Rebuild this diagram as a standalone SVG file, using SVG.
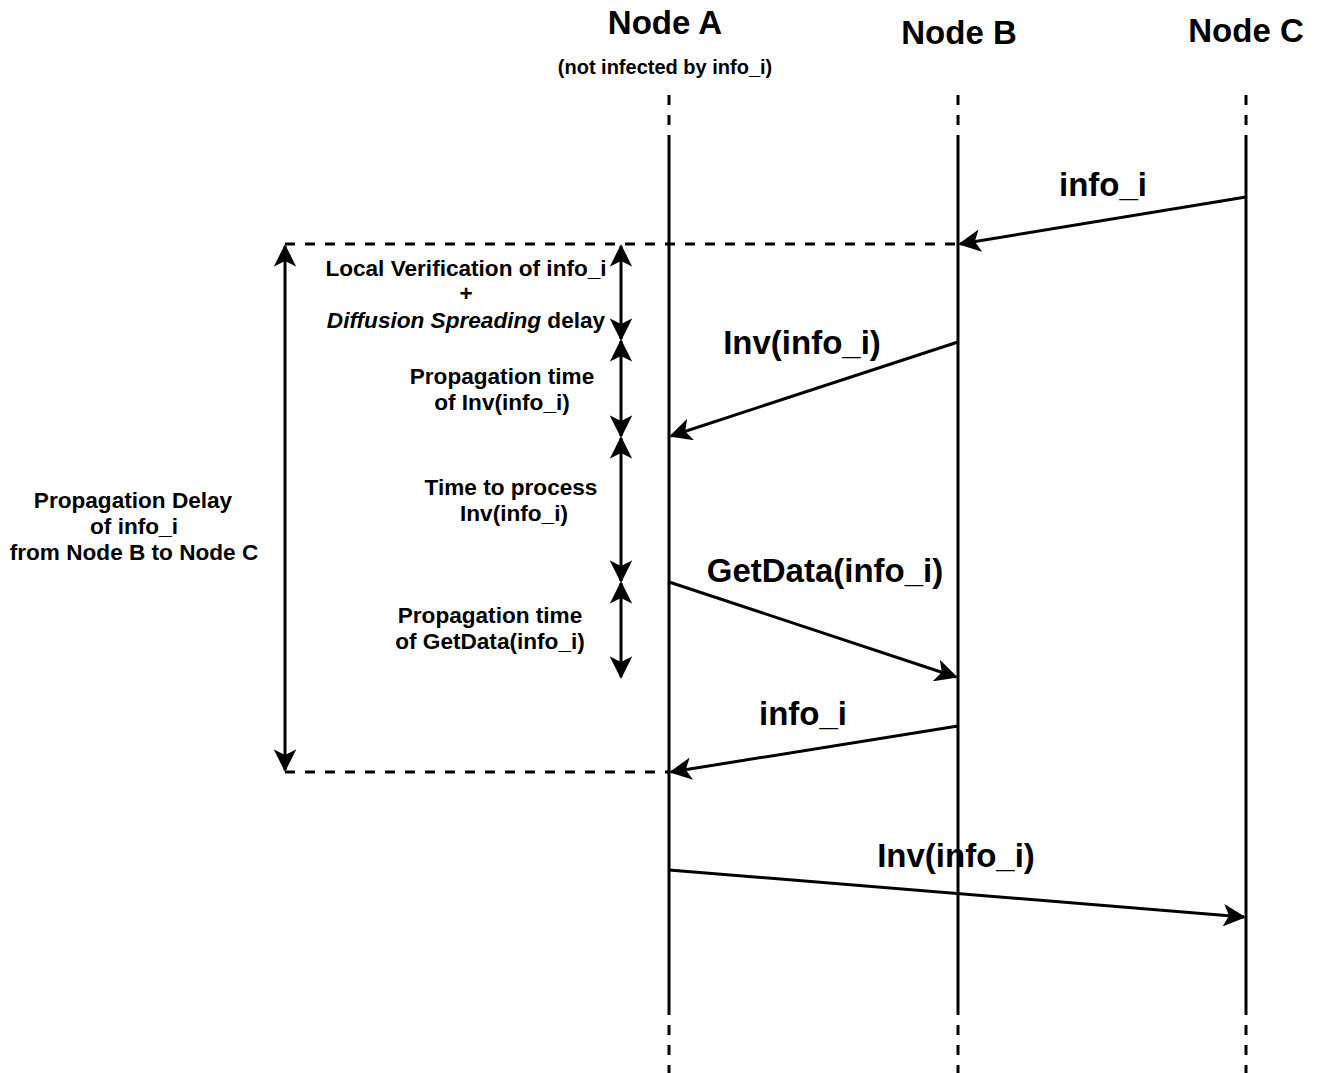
<svg xmlns="http://www.w3.org/2000/svg" width="1321" height="1073" viewBox="0 0 1321 1073">
<style>
.t{font-family:"Liberation Sans",Arial,sans-serif;font-weight:bold;fill:#000;text-anchor:middle}
.h{font-size:33px}
.m{font-size:33px}
.s{font-size:22.6px}
.xs{font-size:20px}
.life{stroke:#000;stroke-width:3;fill:none}
.dash{stroke-dasharray:10 10}
.ar{stroke:#000;stroke-width:3;fill:none}
</style>
<defs>
<marker id="ah2" viewBox="0 0 12 12" refX="11" refY="6" markerWidth="7.5" markerHeight="7.5" orient="auto-start-reverse">
<path d="M0,0 L12,6 L0,12 L3,6 z" fill="#000"/>
</marker>
</defs>
<rect width="1321" height="1073" fill="#fff"/>
<g id="nodeA">
<text class="t h" x="665" y="34">Node A</text>
<text class="t xs" x="665" y="74">(not infected by info_i)</text>
<line class="life dash" x1="669" y1="95" x2="669" y2="140"/>
<line class="life" x1="669" y1="140" x2="669" y2="1015"/>
<line class="life dash" x1="669" y1="1025" x2="669" y2="1073"/>
</g>
<g id="nodeB">
<text class="t h" x="959" y="44">Node B</text>
<line class="life dash" x1="958" y1="95" x2="958" y2="140"/>
<line class="life" x1="958" y1="140" x2="958" y2="1015"/>
<line class="life dash" x1="958" y1="1025" x2="958" y2="1073"/>
</g>
<g id="nodeC">
<text class="t h" x="1246" y="42">Node C</text>
<line class="life dash" x1="1246" y1="95" x2="1246" y2="140"/>
<line class="life" x1="1246" y1="140" x2="1246" y2="1015"/>
<line class="life dash" x1="1246" y1="1025" x2="1246" y2="1073"/>
</g>
<g id="connectors">
<line class="ar" x1="1246" y1="197" x2="960" y2="244" marker-end="url(#ah2)"/>
<text class="t m" x="1103" y="196">info_i</text>
<line class="ar dash" x1="285" y1="244" x2="958" y2="244"/>
<line class="ar" x1="958" y1="342" x2="671" y2="436" marker-end="url(#ah2)"/>
<text class="t m" x="802" y="354">Inv(info_i)</text>
<line class="ar" x1="669" y1="582" x2="956" y2="677" marker-end="url(#ah2)"/>
<text class="t m" x="825" y="582">GetData(info_i)</text>
<line class="ar" x1="958" y1="726" x2="671" y2="772" marker-end="url(#ah2)"/>
<text class="t m" x="803" y="725">info_i</text>
<line class="ar dash" x1="285" y1="772" x2="669" y2="772"/>
<line class="ar" x1="669" y1="870" x2="1244" y2="917" marker-end="url(#ah2)"/>
<text class="t m" x="956" y="867">Inv(info_i)</text>
<line class="ar" x1="285" y1="246" x2="285" y2="770" marker-start="url(#ah2)" marker-end="url(#ah2)"/>
<line class="ar" x1="621" y1="246" x2="621" y2="339" marker-start="url(#ah2)" marker-end="url(#ah2)"/>
<line class="ar" x1="621" y1="341" x2="621" y2="436" marker-start="url(#ah2)" marker-end="url(#ah2)"/>
<line class="ar" x1="621" y1="438" x2="621" y2="581" marker-start="url(#ah2)" marker-end="url(#ah2)"/>
<line class="ar" x1="621" y1="583" x2="621" y2="677" marker-start="url(#ah2)" marker-end="url(#ah2)"/>
</g>
<g id="labels">
<text class="t s" x="466" y="276">Local Verification of info_i</text>
<text class="t s" x="466" y="301">+</text>
<text class="t s" x="466" y="328"><tspan font-style="italic">Diffusion Spreading</tspan> delay</text>
<text class="t s" x="502" y="384">Propagation time</text>
<text class="t s" x="502" y="410">of Inv(info_i)</text>
<text class="t s" x="511" y="495">Time to process</text>
<text class="t s" x="514" y="521">Inv(info_i)</text>
<text class="t s" x="490" y="623">Propagation time</text>
<text class="t s" x="490" y="649">of GetData(info_i)</text>
<text class="t s" x="133" y="508">Propagation Delay</text>
<text class="t s" x="134" y="534">of info_i</text>
<text class="t s" x="134" y="560">from Node B to Node C</text>
</g>
</svg>
